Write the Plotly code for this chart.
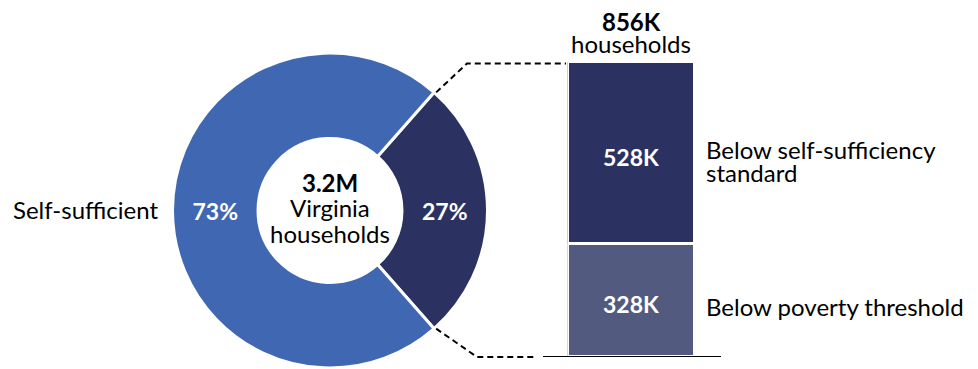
import math
import plotly.graph_objects as go

W, H = 978, 369

# Household split (percent of 3.2M Virginia households)
pie_labels = ["Below self-sufficiency", "Self-sufficient"]
pie_values = [27, 73]
pie_colors = ["#2B3262", "#4068B2"]

# Breakdown of the 856K households below the standard (thousands)
bar_labels = ["Below poverty threshold", "Below self-sufficiency standard"]
bar_values = [328, 528]
bar_colors = ["#525A80", "#2B3262"]
bar_texts = ["328K", "528K"]

total_text = "3.2M"
below_total = sum(bar_values)

FONT = "Lato, Carlito, Calibri, sans-serif"


def px(x):
    return x / W


def py(y):
    return 1 - y / H


# donut geometry in pixels
cx, cy, R = 330, 210.5, 157.5
hole = 0.457
start = 90 - 180 * pie_values[0] / sum(pie_values)  # dark slice centred at 3 o'clock

fig = go.Figure()

fig.add_trace(go.Pie(
    labels=pie_labels,
    values=pie_values,
    sort=False,
    direction="clockwise",
    rotation=start,
    hole=hole,
    marker=dict(colors=pie_colors, line=dict(color="white", width=3)),
    texttemplate="%{percent:.0%}",
    textposition="inside",
    insidetextorientation="horizontal",
    textfont=dict(family=FONT, size=23, color="white", weight="bold"),
    domain=dict(x=[px(cx - R), px(cx + R)], y=[py(cy + R), py(cy - R)]),
    showlegend=False,
    hoverinfo="label+percent",
))

for lab, val, col in zip(bar_labels, bar_values, bar_colors):
    fig.add_trace(go.Bar(
        x=[0], y=[val], name=lab, width=1,
        marker=dict(color=col, line=dict(color="white", width=3)),
        showlegend=False,
        hovertemplate=lab + ": %{y}K<extra></extra>",
    ))

shapes = []
# baseline under the bar
shapes.append(dict(type="line", xref="paper", yref="y",
                   x0=px(543), x1=px(721), y0=0, y1=0,
                   line=dict(color="black", width=2)))

# dashed connectors from the slice edges to the bar
ang = math.radians(180 * pie_values[0] / sum(pie_values))
ex = cx + R * math.cos(ang)
ey_top = cy - R * math.sin(ang)
ey_bot = cy + R * math.sin(ang)
dash = dict(color="black", width=2, dash="6px,4px")
shapes.append(dict(type="path", xref="paper", yref="paper",
                   path=f"M {px(ex + 2)},{py(ey_top)} L {px(467)},{py(63.5)} L {px(566)},{py(63.5)}",
                   line=dash))
shapes.append(dict(type="path", xref="paper", yref="paper",
                   path=f"M {px(ex + 2)},{py(ey_bot)} L {px(477)},{py(357)} L {px(534)},{py(357)}",
                   line=dash))

ann = []


def note(x, y, text, size=24, color="black", xanchor="center", bold=False, **kw):
    ann.append(dict(x=px(x), y=py(y), xref="paper", yref="paper", text=text,
                    showarrow=False, xanchor=xanchor, yanchor="middle",
                    font=dict(family=FONT, size=size, color=color,
                              weight="bold" if bold else "normal"), **kw))


note(11, 209, "Self-sufficient", xanchor="left")
note(cx, 182, total_text, bold=True)
note(cx, 208, "Virginia")
note(cx, 233, "households")
note(631, 22, f"{below_total}K", bold=True)
note(631, 44, "households")
note(704, 149, "Below self-sufficiency", xanchor="left")
note(704, 172, "standard", xanchor="left")
note(704, 306, bar_labels[0], xanchor="left")

# value labels inside the stacked bar segments
base = 0
for val, txt in zip(bar_values, bar_texts):
    ann.append(dict(x=0, y=base + val / 2, xref="x", yref="y", text=txt,
                    showarrow=False, yshift=-4,
                    font=dict(family=FONT, size=23, color="white", weight="bold")))
    base += val

fig.update_layout(
    width=W, height=H,
    margin=dict(l=0, r=0, t=0, b=0),
    paper_bgcolor="white", plot_bgcolor="white",
    barmode="stack", bargap=0,
    xaxis=dict(domain=[px(567.5), px(694.5)], range=[-0.5, 0.5],
               visible=False, fixedrange=True),
    yaxis=dict(domain=[py(357), py(62)], range=[0, below_total],
               visible=False, fixedrange=True),
    shapes=shapes,
    annotations=ann,
)

fig.write_html("out.html")
